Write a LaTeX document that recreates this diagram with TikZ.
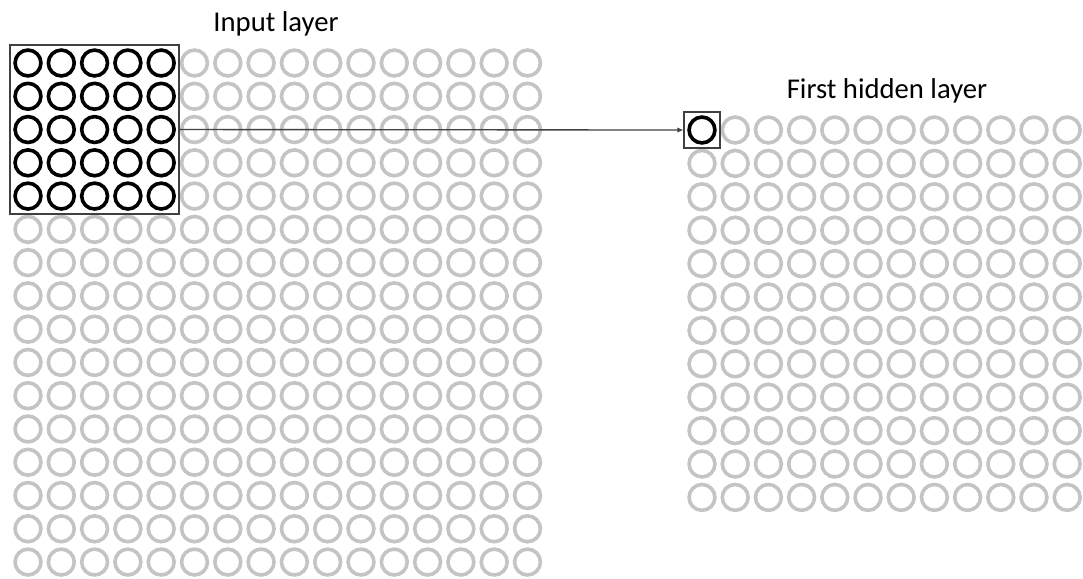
\documentclass[tikz,border=0pt]{standalone}
\usepackage{fontspec}
\setmainfont{Carlito}
\usepackage{tikz}
\usetikzlibrary{arrows.meta, positioning, fit}

\begin{document}
\begin{tikzpicture}[
  x=0.75pt, y=-0.75pt,
  unit/.style={circle, inner sep=0pt, outer sep=0pt, minimum size=19.4pt, line width=2.7pt},
  idle/.style={unit, draw=black!23},
  live/.style={unit, draw=black},
  frame/.style={draw=black!75, line width=1pt, inner sep=3.7pt},
  lbl/.style={font=\fontsize{21.5}{26}\selectfont, anchor=base}
]
  \useasboundingbox (0,0) rectangle (1083,579);
  % Input layer: 16 x 16 units, the 5 x 5 window in black
  \foreach \c in {0,...,15}{
    \foreach \r in {0,...,15}{
      \ifnum\c<5 \ifnum\r<5 \def\st{live}\else\def\st{idle}\fi\else\def\st{idle}\fi
      \node[\st] (in-\c-\r) at ({28+33.3*\c}, {63+33.27*\r}) {};
    }
  }
  % First hidden layer: 12 x 12 units, the first one in black
  \foreach \c in {0,...,11}{
    \foreach \r in {0,...,11}{
      \ifnum\c=0 \ifnum\r=0 \def\st{live}\else\def\st{idle}\fi\else\def\st{idle}\fi
      \node[\st] (hid-\c-\r) at ({702+33.2*\c}, {130+33.4*\r}) {};
    }
  }
  % Windows and connection
  \node[frame, fit=(in-0-0)(in-4-4)] (window) {};
  \node[frame, fit=(hid-0-0)] (target) {};
  \draw[black!75, line width=1pt, -{Latex[length=4.5pt, width=4pt]}] (window.east) -- (target.west);
  % Labels
  \node[lbl] (inlbl) at (276, 31) {Input layer};
  \node[lbl] (hidlbl) at (887, 98) {First hidden layer};
\end{tikzpicture}
\end{document}
